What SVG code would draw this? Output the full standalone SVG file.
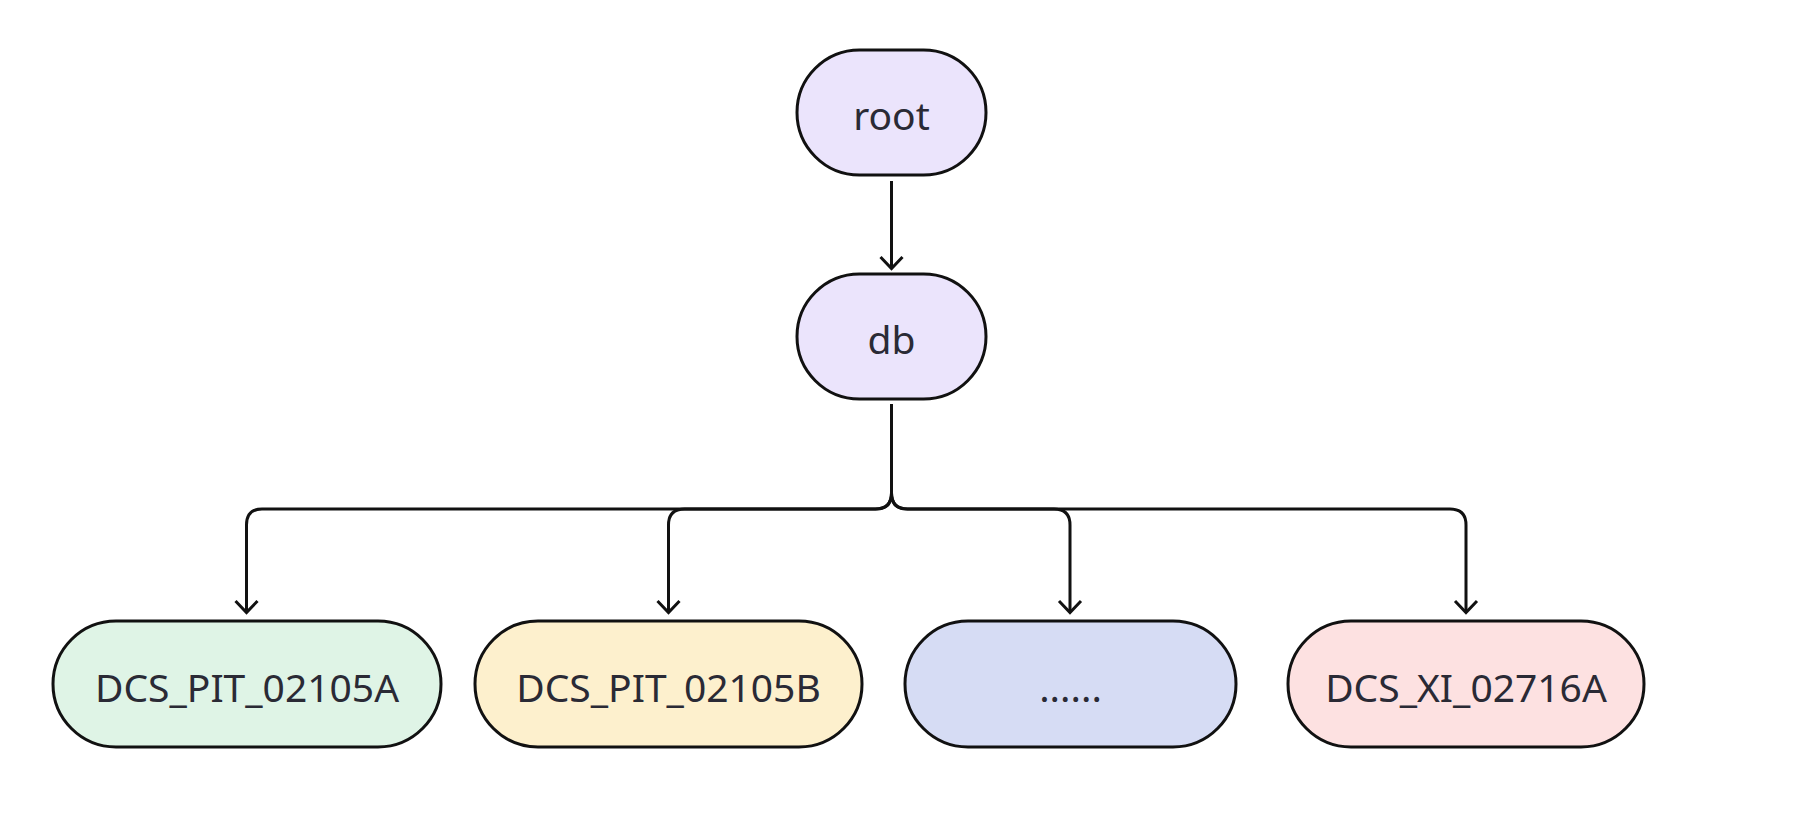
<svg xmlns="http://www.w3.org/2000/svg" width="1812" height="824" viewBox="0 0 1812 824">
<defs>
<style>
.n{stroke:#111;stroke-width:3}
.t{font-family:"Noto Sans","Open Sans","DejaVu Sans",sans-serif;font-size:39px;fill:#2a2a35;text-anchor:middle;dominant-baseline:central}
.c{fill:none;stroke:#111;stroke-width:3;stroke-linejoin:miter}
</style>
</defs>
<rect width="1812" height="824" fill="#fff"/>
<g id="connectors">
<path class="c" d="M891.5,181 V268"/>
<path class="c" d="M891.5,404 V493 Q891.5,509 875.5,509 H262 Q246.5,509 246.5,525 V612"/>
<path class="c" d="M891.5,493 Q891.5,509 875.5,509 H684.5 Q668.5,509 668.5,525 V612"/>
<path class="c" d="M891.5,493 Q891.5,509 907.5,509 H1054 Q1070,509 1070,525 V612"/>
<path class="c" d="M891.5,493 Q891.5,509 907.5,509 H1450 Q1466,509 1466,525 V612"/>
<path class="c" d="M880.5,257 L891.5,268.5 L902.5,257"/>
<path class="c" d="M235.5,601 L246.5,612.5 L257.5,601"/>
<path class="c" d="M657.5,601 L668.5,612.5 L679.5,601"/>
<path class="c" d="M1059,601 L1070,612.5 L1081,601"/>
<path class="c" d="M1455,601 L1466,612.5 L1477,601"/>
</g>
<g id="root"><rect class="n" x="797" y="50" width="189" height="125" rx="62.5" fill="#ebe4fc"/><text class="t" x="891.5" y="114">root</text></g>
<g id="db"><rect class="n" x="797" y="274" width="189" height="125" rx="62.5" fill="#ebe4fc"/><text class="t" x="891.5" y="338">db</text></g>
<g id="n1"><rect class="n" x="53" y="621" width="388" height="126" rx="63" fill="#dff4e6"/><text class="t" x="247" y="686">DCS_PIT_02105A</text></g>
<g id="n2"><rect class="n" x="475" y="621" width="387" height="126" rx="63" fill="#fdf0cd"/><text class="t" x="668.5" y="686">DCS_PIT_02105B</text></g>
<g id="n3"><rect class="n" x="905" y="621" width="331" height="126" rx="63" fill="#d6dcf4"/><text class="t" x="1070.5" y="686">......</text></g>
<g id="n4"><rect class="n" x="1288" y="621" width="356" height="126" rx="63" fill="#fde1e1"/><text class="t" x="1466" y="686">DCS_XI_02716A</text></g>
</svg>
